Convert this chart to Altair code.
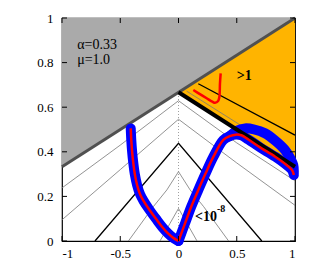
import altair as alt
import pandas as pd

# ---------------- data ----------------
x_ticks = [-1, -0.5, 0, 0.5, 1]
y_ticks = [0, 0.2, 0.4, 0.6, 0.8, 1]

# gray (forbidden) region: above the line y = (2+x)/3
gray_x = [-1, 1]
gray_low = [0.333, 1.0]
gray_top = [1.0, 1.0]

# orange region (>1)
orange_x = [0, 1]
orange_low = [0.667, 0.333]
orange_top = [0.667, 1.0]

# boundary lines
gray_line_x = [-1, 1]
gray_line_y = [0.333, 1.0]
thick_x = [0, 1]
thick_y = [0.667, 0.333]

# thin gray contour lines
cA_x = [-1, -0.5, 0, 0.5, 1]
cA_y = [0.238, 0.43, 0.629, 0.44, 0.27]
cB_x = [-1, -0.5, 0, 0.5, 1]
cB_y = [0.095, 0.32, 0.546, 0.35, 0.16]
cC_x = [-0.43, -0.216, -0.10, 0, 0.10, 0.216, 0.43]
cC_y = [0.0, 0.154, 0.229, 0.311, 0.229, 0.154, 0.0]
cD_x = [-0.159, -0.073, 0, 0.073, 0.159]
cD_y = [0.0, 0.079, 0.146, 0.079, 0.0]
# black contour (1e-8)
cK_x = [-0.717, 0, 0.715]
cK_y = [0.0, 0.438, 0.0]
# contours inside the orange region
cO_x = [0.17, 1.0]
cO_y = [0.705, 0.475]
cP_x = [0.07, 0.6]
cP_y = [0.672, 0.497]

# dotted symmetry line
dot_x = [0, 0]
dot_y = [0, 0.667]

# main trajectory: left branch (down to the origin) and right branch (origin to right edge)
left_x = [-0.41, -0.405, -0.398, -0.388, -0.375, -0.355, -0.33, -0.30, -0.25, -0.19, -0.14, -0.09, -0.045, 0]
left_y = [0.505, 0.45, 0.40, 0.35, 0.30, 0.25, 0.21, 0.18, 0.14, 0.097, 0.063, 0.034, 0.014, 0.0]
right_x = [0, 0.056, 0.11, 0.17, 0.23, 0.30, 0.385, 0.44, 0.49, 0.54, 0.60, 0.70, 0.83, 0.93, 0.975, 0.99]
right_y = [0.0, 0.079, 0.155, 0.229, 0.30, 0.378, 0.453, 0.47, 0.477, 0.474, 0.455, 0.42, 0.378, 0.34, 0.318, 0.296]
blue_up_x = [0.44, 0.50, 0.571, 0.65, 0.742, 0.83, 0.914, 0.96, 0.985, 0.99]
blue_up_y = [0.47, 0.495, 0.505, 0.50, 0.483, 0.45, 0.408, 0.37, 0.341, 0.31]

# red U-curve inside orange region
ru_x = [0.127, 0.18, 0.242, 0.29, 0.313, 0.34, 0.351, 0.356, 0.362]
ru_y = [0.677, 0.66, 0.64, 0.625, 0.620, 0.628, 0.647, 0.707, 0.752]

# annotations
note_text = ["\u03b1=0.33", "\u03bc=1.0"]
note_x = [-0.87, -0.87]
note_y = [0.88, 0.81]

W, H = 233, 223
FONT = "Liberation Serif, Times New Roman, serif"

xs = alt.Scale(domain=[-1, 1], nice=False, zero=False)
ys = alt.Scale(domain=[0, 1], nice=False, zero=False)


def line_df(xv, yv, gid=0):
    return pd.DataFrame({"x": xv, "y": yv, "i": list(range(len(xv))), "g": [gid] * len(xv)})


X = alt.X("x:Q", scale=xs,
          axis=alt.Axis(values=x_ticks, ticks=False, domain=False, grid=False, title=None,
                        labelFont=FONT, labelFontSize=13, labelColor="black", labelPadding=6,
                        labelExpr="toString(datum.value)"))
Y = alt.Y("y:Q", scale=ys,
          axis=alt.Axis(values=y_ticks, ticks=False, domain=False, grid=False, title=None,
                        labelFont=FONT, labelFontSize=13, labelColor="black", labelPadding=9,
                        labelExpr="toString(datum.value)"))

gray_df = pd.DataFrame({"x": gray_x, "y": gray_low, "y2": gray_top})
gray_area = alt.Chart(gray_df).mark_area(color="#aaaaaa", opacity=1).encode(x=X, y=Y, y2="y2:Q")

orange_df = pd.DataFrame({"x": orange_x, "y": orange_low, "y2": orange_top})
orange_area = alt.Chart(orange_df).mark_area(color="#ffb400", opacity=1).encode(x="x:Q", y="y:Q", y2="y2:Q")

thin_df = pd.concat([line_df(cA_x, cA_y, 0), line_df(cB_x, cB_y, 1), line_df(cC_x, cC_y, 2),
                     line_df(cD_x, cD_y, 3), line_df(cP_x, cP_y, 4)])
thin_lines = alt.Chart(thin_df).mark_line(color="#777777", strokeWidth=0.8).encode(
    x="x:Q", y="y:Q", detail="g:N", order="i:Q")

black_df = pd.concat([line_df(cK_x, cK_y, 0), line_df(cO_x, cO_y, 1)])
black_lines = alt.Chart(black_df).mark_line(color="black", strokeWidth=1.3).encode(
    x="x:Q", y="y:Q", detail="g:N", order="i:Q")

dotted = alt.Chart(line_df(dot_x, dot_y)).mark_line(color="#888888", strokeWidth=0.8, strokeDash=[1, 2]).encode(
    x="x:Q", y="y:Q", order="i:Q")

thick = alt.Chart(line_df(thick_x, thick_y)).mark_line(color="black", strokeWidth=4).encode(
    x="x:Q", y="y:Q", order="i:Q")

gray_line = alt.Chart(line_df(gray_line_x, gray_line_y)).mark_line(color="#505050", strokeWidth=3).encode(
    x="x:Q", y="y:Q", order="i:Q")

blue_df = pd.concat([line_df(left_x, left_y, 0), line_df(right_x, right_y, 1),
                     line_df(blue_up_x, blue_up_y, 2)])
blue = alt.Chart(blue_df).mark_line(color="#0000ff", strokeWidth=10, strokeCap="round", strokeJoin="round",
                                    interpolate="catmull-rom").encode(
    x="x:Q", y="y:Q", detail="g:N", order="i:Q")

red_df = pd.concat([line_df(left_x, left_y, 0), line_df(right_x, right_y, 1), line_df(ru_x, ru_y, 2)])
red = alt.Chart(red_df).mark_line(color="#ff0000", strokeWidth=2.5, strokeJoin="round",
                                  interpolate="catmull-rom").encode(
    x="x:Q", y="y:Q", detail="g:N", order="i:Q")

notes = alt.Chart(pd.DataFrame({"x": note_x, "y": note_y, "t": note_text})).mark_text(
    align="left", baseline="middle", font=FONT, fontSize=14, color="black").encode(
    x="x:Q", y="y:Q", text="t:N")

gt1 = alt.Chart(pd.DataFrame({"x": [0.5], "y": [0.74], "t": [">1"]})).mark_text(
    align="left", baseline="middle", font=FONT, fontSize=14, fontWeight="bold", color="black").encode(
    x="x:Q", y="y:Q", text="t:N")

lt = alt.Chart(pd.DataFrame({"x": [0.142], "y": [0.109], "t": ["<10"]})).mark_text(
    align="left", baseline="middle", font=FONT, fontSize=14, fontWeight="bold", color="black").encode(
    x="x:Q", y="y:Q", text="t:N")
sup = alt.Chart(pd.DataFrame({"x": [0.33], "y": [0.142], "t": ["-8"]})).mark_text(
    align="left", baseline="middle", font=FONT, fontSize=10, fontWeight="bold", color="black").encode(
    x="x:Q", y="y:Q", text="t:N")

# inward ticks on all four sides
xt = pd.DataFrame({"x": x_ticks})
yt = pd.DataFrame({"y": y_ticks})
tick_b = alt.Chart(xt).mark_rule(color="black", strokeWidth=1).encode(
    x="x:Q", y=alt.value(H), y2=alt.value(H - 5))
tick_t = alt.Chart(xt).mark_rule(color="black", strokeWidth=1).encode(
    x="x:Q", y=alt.value(0), y2=alt.value(5))
tick_l = alt.Chart(yt).mark_rule(color="black", strokeWidth=1).encode(
    y="y:Q", x=alt.value(0), x2=alt.value(5))
tick_r = alt.Chart(yt).mark_rule(color="black", strokeWidth=1).encode(
    y="y:Q", x=alt.value(W), x2=alt.value(W - 5))

chart = alt.layer(
    gray_area, orange_area, thin_lines, black_lines, dotted, gray_line,
    blue, thick, red, notes, gt1, lt, sup, tick_b, tick_t, tick_l, tick_r
).properties(
    width=W, height=H,
    autosize=alt.AutoSizeParams(type="none"),
    padding={"left": 54, "top": 10, "right": 13, "bottom": 22},
    background="white",
).configure_view(stroke="black", strokeWidth=1.2)

chart.save("out.html", embed_options={"renderer": "svg", "actions": False})
